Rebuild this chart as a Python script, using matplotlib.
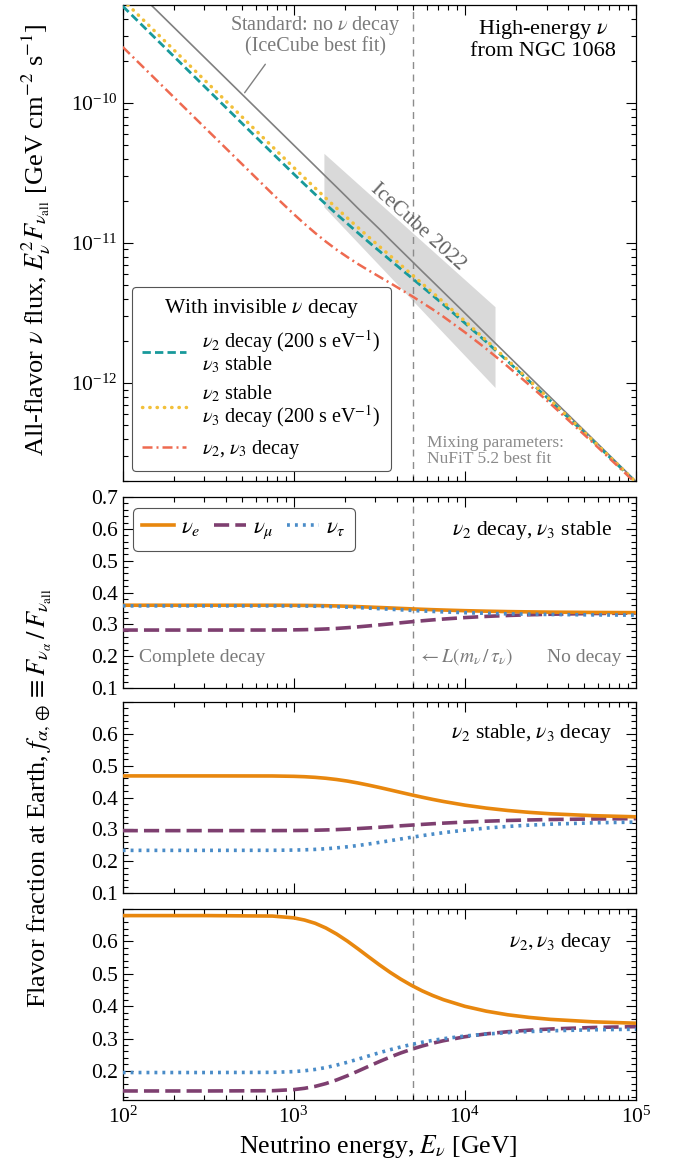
import matplotlib
matplotlib.use('Agg')
import matplotlib.pyplot as plt
from matplotlib.ticker import LogLocator, MultipleLocator, NullFormatter

plt.rcParams['font.family'] = ['Liberation Serif', 'DejaVu Serif']
plt.rcParams['mathtext.fontset'] = 'stix'

# neutrino energies [GeV]
energy = [1e2, 3.162e2, 7.499e2, 1e3, 1.155e3, 1.334e3, 1.540e3, 1.778e3, 2.054e3, 2.371e3,
          2.738e3, 3.162e3, 3.652e3, 4.217e3, 4.870e3, 5.623e3, 6.494e3, 7.499e3, 1e4, 1.334e4,
          1.778e4, 2.371e4, 3.162e4, 5.623e4, 1e5]

# all-flavor flux E^2 F [GeV cm^-2 s^-1]
flux_standard = [7.92e-10, 1.99e-10, 7.06e-11, 5.00e-11, 4.207e-11, 3.54e-11, 2.978e-11, 2.51e-11,
                 2.109e-11, 1.77e-11, 1.493e-11, 1.26e-11, 1.057e-11, 8.89e-12, 7.48e-12, 6.29e-12,
                 5.30e-12, 4.46e-12, 3.16e-12, 2.23e-12, 1.58e-12, 1.119e-12, 7.92e-13, 3.97e-13,
                 1.99e-13]
flux_nu2_decay = [4.91e-10, 1.234e-10, 4.381e-11, 3.11e-11, 2.629e-11, 2.226e-11, 1.890e-11,
                  1.611e-11, 1.378e-11, 1.182e-11, 1.017e-11, 8.77e-12, 7.575e-12, 6.54e-12,
                  5.656e-12, 4.88e-12, 4.218e-12, 3.635e-12, 2.683e-12, 1.968e-12, 1.434e-12,
                  1.038e-12, 7.48e-13, 3.84e-13, 1.953e-13]
flux_nu3_decay = [5.46e-10, 1.373e-10, 4.874e-11, 3.46e-11, 2.920e-11, 2.468e-11, 2.091e-11,
                  1.776e-11, 1.513e-11, 1.291e-11, 1.105e-11, 9.47e-12, 8.126e-12, 6.98e-12,
                  5.991e-12, 5.14e-12, 4.418e-12, 3.79e-12, 2.770e-12, 2.017e-12, 1.461e-12,
                  1.053e-12, 7.56e-13, 3.87e-13, 1.96e-13]
flux_nu23_decay = [2.51e-10, 6.31e-11, 2.244e-11, 1.608e-11, 1.3715e-11, 1.179e-11, 1.0232e-11,
                   8.97e-12, 7.947e-12, 7.09e-12, 6.375e-12, 5.75e-12, 5.187e-12, 4.67e-12,
                   4.202e-12, 3.76e-12, 3.356e-12, 2.978e-12, 2.307e-12, 1.756e-12, 1.316e-12,
                   9.738e-13, 7.13e-13, 3.74e-13, 1.924e-13]

# IceCube 2022 band
band_energy = [1.5e3, 1.5e4]
band_upper = [4.37e-11, 3.51e-12]
band_lower = [1.81e-11, 9.31e-13]

# flavor fractions at Earth: (nu_e, nu_mu, nu_tau)
frac_nu2_decay = (
    [0.360, 0.360, 0.3600, 0.3597, 0.3595, 0.3591, 0.3585, 0.3578, 0.3568, 0.3556, 0.3543, 0.3529, 0.3515,
     0.3500, 0.3486, 0.3473, 0.3460, 0.3449, 0.3429, 0.3413, 0.3400, 0.3391, 0.3383, 0.3373, 0.3367],
    [0.282, 0.282, 0.2821, 0.2826, 0.2832, 0.2841, 0.2854, 0.2871, 0.2894, 0.2920, 0.2950, 0.2982, 0.3015,
     0.3048, 0.3081, 0.3111, 0.3140, 0.3166, 0.3212, 0.3249, 0.3278, 0.3300, 0.3317, 0.3340, 0.3353],
    [0.358, 0.358, 0.3579, 0.3577, 0.3574, 0.3569, 0.3562, 0.3552, 0.3540, 0.3525, 0.3509, 0.3492, 0.3474,
     0.3456, 0.3438, 0.3421, 0.3405, 0.3391, 0.3366, 0.3346, 0.3330, 0.3318, 0.3309, 0.3296, 0.3289],
)
frac_nu3_decay = (
    [0.468, 0.468, 0.4678, 0.4667, 0.4655, 0.4635, 0.4606, 0.4567, 0.4518, 0.4458, 0.4390, 0.4317, 0.4240,
     0.4162, 0.4085, 0.4011, 0.3941, 0.3876, 0.3761, 0.3668, 0.3594, 0.3535, 0.3490, 0.3430, 0.3395],
    [0.296, 0.296, 0.2961, 0.2964, 0.2967, 0.2973, 0.2982, 0.2993, 0.3008, 0.3025, 0.3045, 0.3066, 0.3089,
     0.3112, 0.3134, 0.3156, 0.3177, 0.3196, 0.3229, 0.3257, 0.3279, 0.3296, 0.3309, 0.3326, 0.3337],
    [0.234, 0.234, 0.2342, 0.2349, 0.2357, 0.2371, 0.2391, 0.2418, 0.2452, 0.2493, 0.2540, 0.2591, 0.2644,
     0.2698, 0.2751, 0.2803, 0.2851, 0.2896, 0.2976, 0.3040, 0.3092, 0.3132, 0.3163, 0.3205, 0.3229],
)
frac_nu23_decay = (
    [0.680, 0.680, 0.6786, 0.6730, 0.6663, 0.6562, 0.6417, 0.6232, 0.6014, 0.5774, 0.5525, 0.5280, 0.5048,
     0.4836, 0.4645, 0.4475, 0.4329, 0.4201, 0.3996, 0.3846, 0.3735, 0.3654, 0.3593, 0.3517, 0.3474],
    [0.138, 0.138, 0.1388, 0.1422, 0.1462, 0.1522, 0.1609, 0.1720, 0.1850, 0.1993, 0.2142, 0.2288, 0.2427,
     0.2554, 0.2668, 0.2769, 0.2857, 0.2933, 0.3056, 0.3145, 0.3212, 0.3260, 0.3296, 0.3342, 0.3368],
    [0.195, 0.195, 0.1955, 0.1978, 0.2005, 0.2046, 0.2104, 0.2179, 0.2266, 0.2363, 0.2463, 0.2562, 0.2655,
     0.2740, 0.2817, 0.2885, 0.2944, 0.2996, 0.3078, 0.3139, 0.3183, 0.3216, 0.3240, 0.3271, 0.3288],
)

e_decay = 5e3  # L (m / tau)

c_std = '#808080'
c_teal = '#18999b'
c_yellow = '#f2c03a'
c_red = '#ee6a50'
c_e = '#e8870e'
c_mu = '#7e3f70'
c_tau = '#4a8cc8'
c_gray_txt = '#7a7a7a'


def style_axis(ax):
    ax.set_xscale('log')
    ax.set_xticks([1e2, 1e3, 1e4, 1e5])
    ax.set_xlim(1e2, 1e5)
    ax.tick_params(which='both', direction='in', top=True, right=True, labelsize=15.5, width=0.8)
    ax.tick_params(which='major', length=7)
    ax.tick_params(which='minor', length=3.5)
    ax.xaxis.set_minor_locator(LogLocator(base=10, subs=range(2, 10), numticks=20))
    ax.xaxis.set_minor_formatter(NullFormatter())
    for s in ax.spines.values():
        s.set_linewidth(0.9)
    ax.axvline(e_decay, color='#8c8c8c', ls=(0, (5, 4)), lw=1.0, zorder=1)


fig = plt.figure(figsize=(6.8, 11.69), dpi=100)
L, W = 0.1804, 0.7549

# ---- flux panel ----
ax0 = fig.add_axes([L, 0.5885, W, 0.4072])
style_axis(ax0)
ax0.set_yscale('log')
ax0.set_yticks([1e-12, 1e-11, 1e-10])
ax0.yaxis.set_minor_locator(LogLocator(base=10, subs=range(2, 10), numticks=20))
ax0.yaxis.set_minor_formatter(NullFormatter())
ax0.set_ylim(2e-13, 5e-10)
ax0.set_xticklabels([])

ax0.fill_between(band_energy, band_lower, band_upper, color='#d9d9d9', lw=0, zorder=0)
ax0.plot(energy, flux_standard, color=c_std, lw=1.2, zorder=2)
l1, = ax0.plot(energy, flux_nu2_decay, color=c_teal, lw=2.0, ls=(0, (3, 1.5)), zorder=3)
l2, = ax0.plot(energy, flux_nu3_decay, color=c_yellow, lw=2.5, ls=(0, (0.1, 2.0)),
               dash_capstyle='round', zorder=3)
l3, = ax0.plot(energy, flux_nu23_decay, color=c_red, lw=1.8, ls=(0, (4, 1.6, 0.8, 1.6)), zorder=3)

leg = ax0.legend([l1, l2, l3],
                 ['$\\nu_2$ decay (200 s eV$^{-1}$)\n$\\nu_3$ stable',
                  '$\\nu_2$ stable\n$\\nu_3$ decay (200 s eV$^{-1}$)',
                  '$\\nu_2$, $\\nu_3$ decay'],
                 title='With invisible $\\nu$ decay', title_fontsize=15.5, fontsize=14.5,
                 loc='lower left', bbox_to_anchor=(0.018, 0.021), borderaxespad=0,
                 handlelength=2.2, labelspacing=0.4, frameon=True, fancybox=True,
                 framealpha=1, edgecolor='#555555', borderpad=0.5)
leg.get_frame().set_linewidth(0.8)
for t in leg.get_texts():
    t.set_linespacing(0.95)

ax0.text(0.961, 0.973, 'High-energy $\\nu$\nfrom NGC 1068', transform=ax0.transAxes,
         ha='right', va='top', multialignment='center', fontsize=16, linespacing=1.05)
ax0.text(0.375, 0.981, 'Standard: no $\\nu$ decay\n(IceCube best fit)', transform=ax0.transAxes,
         ha='center', va='top', multialignment='center', fontsize=14.5, color=c_gray_txt,
         linespacing=1.0)
ax0.annotate('', xy=(505, 1.14e-10), xytext=(697, 1.96e-10),
             arrowprops=dict(arrowstyle='-', color=c_std, lw=1.0))
ax0.text(0.593, 0.03, 'Mixing parameters:\nNuFiT 5.2 best fit', transform=ax0.transAxes,
         ha='left', va='bottom', fontsize=12.5, color='#8a8a8a', linespacing=1.0)
ax0.text(0.575, 0.534, 'IceCube 2022', transform=ax0.transAxes, rotation=-42,
         ha='center', va='center', rotation_mode='anchor', fontsize=15.5, color='#666666')

# ---- flavor fraction panels ----
panels = [
    (0.4115, frac_nu2_decay, '$\\nu_2$ decay, $\\nu_3$ stable', (0.1, 0.7), 0.827),
    (0.2361, frac_nu3_decay, '$\\nu_2$ stable, $\\nu_3$ decay', (0.1, 0.7), 0.836),
    (0.0590, frac_nu23_decay, '$\\nu_2, \\nu_3$ decay', (0.11, 0.7), 0.826),
]
yticks = [0.1, 0.2, 0.3, 0.4, 0.5, 0.6, 0.7]
axes = []
for i, (bottom, fr, title, ylim, ty) in enumerate(panels):
    ax = fig.add_axes([L, bottom, W, 0.1633])
    style_axis(ax)
    ax.set_yticks(yticks)
    labels = ['%.1f' % t for t in yticks]
    if i > 0:
        labels[-1] = ''
    ax.set_yticklabels(labels)
    ax.yaxis.set_minor_locator(MultipleLocator(0.02))
    ax.set_ylim(*ylim)
    ax.plot(energy, fr[0], color=c_e, lw=2.6, label='$\\nu_e$', zorder=4)
    ax.plot(energy, fr[1], color=c_mu, lw=2.6, ls=(0, (4.2, 1.7)), label='$\\nu_\\mu$', zorder=3)
    ax.plot(energy, fr[2], color=c_tau, lw=2.6, ls=(0, (0.8, 1.4)), label='$\\nu_\\tau$', zorder=5)
    ax.text(0.954, ty, title, transform=ax.transAxes, ha='right', va='center', fontsize=15.5)
    if i < 2:
        ax.set_xticklabels([])
    axes.append(ax)

ax1 = axes[0]
leg2 = ax1.legend(loc='upper left', bbox_to_anchor=(0.02, 0.942), borderaxespad=0, ncol=3,
                  fontsize=16.5, handlelength=1.4, columnspacing=0.6, handletextpad=0.3,
                  frameon=True, fancybox=True, framealpha=1, edgecolor='#555555', borderpad=0.4)
leg2.get_frame().set_linewidth(0.8)
ax1.text(0.032, 0.162, 'Complete decay', transform=ax1.transAxes, ha='left', va='center',
         fontsize=14, color=c_gray_txt)
ax1.text(0.575, 0.162, '$\\leftarrow L(m_\\nu\\,/\\,\\tau_\\nu)$', transform=ax1.transAxes,
         ha='left', va='center', fontsize=14, color=c_gray_txt)
ax1.text(0.972, 0.162, 'No decay', transform=ax1.transAxes, ha='right', va='center',
         fontsize=14, color=c_gray_txt)

axes[2].tick_params(axis='x', which='major', pad=5)

fig.text(0.054, 0.795, 'All-flavor $\\nu$ flux, $E_\\nu^2 F_{\\nu_{\\rm all}}$ [GeV cm$^{-2}$ s$^{-1}$]',
         rotation=90, ha='center', va='center', fontsize=19)
fig.text(0.058, 0.317, 'Flavor fraction at Earth, $f_{\\alpha,\\oplus} \\equiv F_{\\nu_\\alpha}\\,/\\,F_{\\nu_{\\rm all}}$',
         rotation=90, ha='center', va='center', fontsize=19)
fig.text(0.557, 0.0195, 'Neutrino energy, $E_\\nu$ [GeV]', ha='center', va='center', fontsize=18.5)

fig.savefig('out.png', dpi=100)
